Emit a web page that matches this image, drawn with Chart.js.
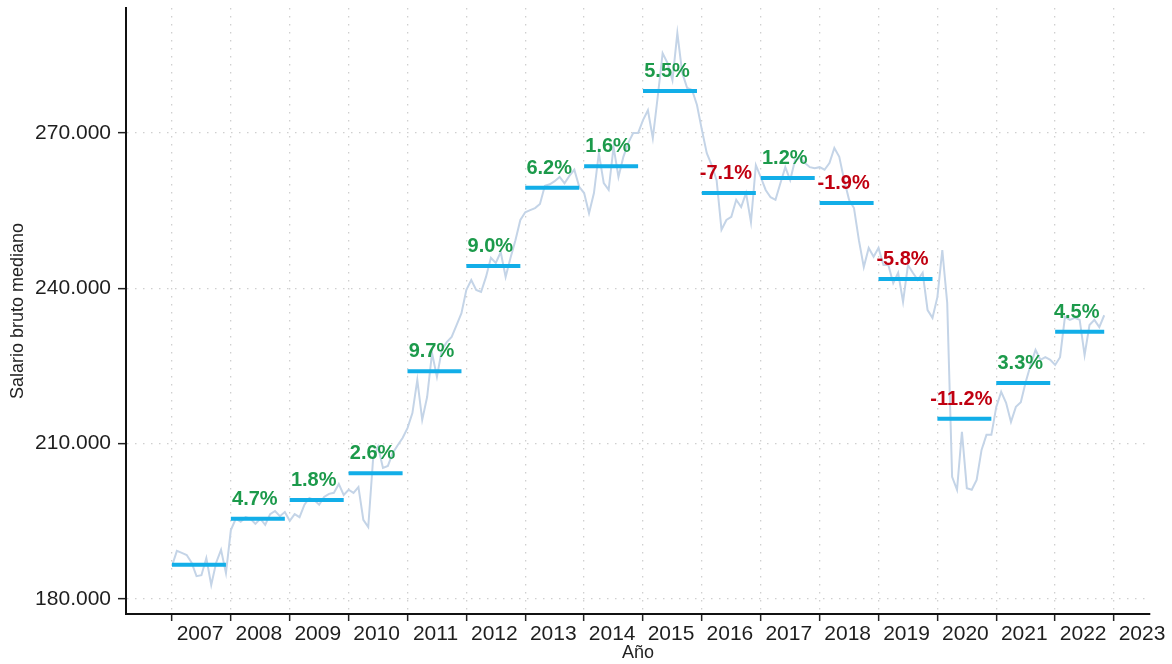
<!DOCTYPE html>
<html>
<head>
<meta charset="utf-8">
<script src="https://cdn.jsdelivr.net/npm/chart.js@4/dist/chart.umd.min.js"></script>
<style>
  html, body { margin: 0; padding: 0; background: #fff; }
  #wrap { width: 1172px; height: 664px; }
</style>
</head>
<body>
<div id="wrap"><canvas id="chart"></canvas></div>
<script>
// valores en miles
var anios = [2007, 2008, 2009, 2010, 2011, 2012, 2013, 2014, 2015, 2016, 2017, 2018, 2019, 2020, 2021, 2022]
var salarioAnual = [186.6, 195.5, 199.1, 204.3, 224.0, 244.3, 259.4, 263.6, 278.1, 258.4, 261.3, 256.5, 241.8, 214.8, 221.7, 231.6]
var variacion = [null, 4.7, 1.8, 2.6, 9.7, 9.0, 6.2, 1.6, 5.5, -7.1, 1.2, -1.9, -5.8, -11.2, 3.3, 4.5]

// serie mensual, desde enero 2007 hasta noviembre 2022
var salarioMensual = [
  186.4, 189.3, 188.9, 188.5, 187.0, 184.4, 184.6, 187.9, 182.7, 187.0, 189.5, 185.0,
  193.3, 195.5, 194.9, 195.8, 195.5, 194.5, 195.5, 194.3, 196.4, 197.0, 196.0, 196.8,
  195.1, 196.4, 195.8, 198.2, 199.5, 199.1, 198.2, 199.7, 200.3, 200.5, 202.2, 200.1,
  201.1, 200.5, 201.6, 195.3, 193.9, 207.2, 209.4, 205.3, 205.7, 208.2, 209.7, 211.1,
  213.0, 215.9, 222.3, 214.6, 219.0, 227.5, 222.9, 228.1, 229.6, 230.6, 232.9, 235.2,
  239.7, 241.6, 239.7, 239.3, 242.2, 245.9, 244.9, 247.0, 242.2, 245.9, 249.3, 253.2,
  254.7, 255.1, 255.5, 256.3, 259.8, 260.1, 260.7, 261.5, 260.3, 261.7, 262.9, 259.6,
  258.4, 254.5, 258.4, 266.1, 260.3, 259.0, 267.3, 261.5, 265.4, 268.1, 270.0, 270.0,
  272.5, 274.4, 269.0, 277.0, 285.4, 283.5, 280.2, 289.3, 281.6, 278.7, 278.3, 275.4,
  270.6, 266.1, 263.8, 260.9, 251.3, 253.2, 253.8, 257.1, 255.7, 258.4, 252.8, 263.8,
  261.5, 259.0, 257.6, 257.1, 260.3, 263.4, 260.9, 264.8, 265.2, 264.2, 263.4, 263.2,
  263.4, 262.9, 264.2, 267.1, 265.4, 260.9, 257.1, 255.5, 249.3, 244.1, 247.8, 246.1,
  247.8, 244.5, 244.5, 241.0, 243.0, 237.4, 244.5, 243.0, 241.6, 243.0, 235.8, 234.3,
  238.3, 247.4, 237.2, 203.6, 201.1, 212.3, 201.4, 201.1, 203.0, 208.8, 211.7, 211.7,
  217.1, 220.0, 217.9, 214.2, 217.1, 218.0, 221.9, 225.2, 228.1, 226.2, 226.7, 226.2,
  225.2, 226.7, 234.5, 233.9, 234.3, 233.9, 227.1, 232.9, 233.9, 232.5, 234.8
]

var ticksX = [2007, 2008, 2009, 2010, 2011, 2012, 2013, 2014, 2015, 2016, 2017, 2018, 2019, 2020, 2021, 2022, 2023]
var ticksY = [180, 210, 240, 270]

var verde = '#1c9a4b'
var rojo = '#c00010'

Chart.defaults.font.family = '"Liberation Sans", Arial, sans-serif'

var mensual = salarioMensual.map(function (v, i) {
  return {x: anios[0] + i / 12, y: v}
})

// fin de cada tramo anual = ultimo mes con dato
function finAnio(k) {
  var n = Math.min(12, salarioMensual.length - k * 12)
  return anios[k] + (n - 1) / 12
}

var tramos = []
for (let k = 0; k < anios.length; k++) {
  tramos.push({x: anios[k], y: salarioAnual[k]})
  tramos.push({x: finAnio(k), y: salarioAnual[k]})
  tramos.push({x: finAnio(k) + 0.01, y: null})
}

var etiquetas = {
  id: 'etiquetas',
  afterDatasetsDraw: function (chart) {
    var ctx = chart.ctx
    var sx = chart.scales.x
    var sy = chart.scales.y
    ctx.save()
    ctx.font = 'bold 20px "Liberation Sans", Arial, sans-serif'
    ctx.textAlign = 'center'
    ctx.textBaseline = 'alphabetic'
    for (let k = 0; k < anios.length; k++) {
      if (variacion[k] == null) continue
      var cx = (sx.getPixelForValue(anios[k]) + sx.getPixelForValue(finAnio(k))) / 2 - 3
      var cy = sy.getPixelForValue(salarioAnual[k]) - 14
      ctx.fillStyle = variacion[k] < 0 ? rojo : verde
      ctx.fillText(variacion[k].toFixed(1) + '%', cx, cy)
    }
    ctx.restore()
  }
}

var ctx = document.getElementById('chart').getContext('2d')

var myChart = new Chart(ctx, {
  type: 'line',
  data: {
    datasets: [{
      data: tramos,
      borderColor: '#12aee8',
      borderWidth: 4,
      pointRadius: 0,
      spanGaps: false,
      tension: 0
    }, {
      data: mensual,
      borderColor: '#c4d4e7',
      borderWidth: 2,
      pointRadius: 0,
      tension: 0
    }]
  },
  options: {
    responsive: true,
    maintainAspectRatio: false,
    animation: false,
    layout: { padding: {top: 8, right: 22, bottom: 0, left: 0} },
    plugins: {
      legend: { display: false },
      tooltip: { enabled: false }
    },
    scales: {
      x: {
        type: 'linear',
        min: 2006.219,
        max: 2023.611,
        afterBuildTicks: function (s) { s.ticks = ticksX.map(function (v) { return {value: v} }) },
        afterFit: function (s) { s.height = 50; s.paddingLeft = 0; s.paddingRight = 0 },
        grid: { color: '#cfcfcf', lineWidth: 1.3, tickColor: '#222', tickWidth: 1.5, tickLength: 7, tickBorderDash: [] },
        border: { color: '#111', width: 2, dash: [1.5, 6.5] },
        ticks: {
          color: '#1e1e1e',
          font: { size: 21 },
          padding: 1,
          labelOffset: 28,
          maxRotation: 0,
          autoSkip: false,
          callback: function (v) { return String(v) }
        },
        title: { display: true, text: 'Año', color: '#222', font: { size: 18 }, padding: {top: 0, bottom: 0} }
      },
      y: {
        type: 'linear',
        min: 177.1,
        max: 294.14,
        afterBuildTicks: function (s) { s.ticks = ticksY.map(function (v) { return {value: v} }) },
        afterFit: function (s) { s.width = 126; s.paddingTop = 0; s.paddingBottom = 0 },
        grid: { color: '#cfcfcf', lineWidth: 1.3, tickColor: '#222', tickWidth: 1.5, tickLength: 8, tickBorderDash: [] },
        border: { color: '#111', width: 2, dash: [1.5, 6.5] },
        ticks: {
          color: '#1e1e1e',
          font: { size: 21 },
          padding: 7,
          callback: function (v) { return v + '.000' }
        },
        title: { display: true, text: 'Salario bruto mediano', color: '#222', font: { size: 18 }, padding: {top: 7, bottom: 0} }
      }
    }
  },
  plugins: [etiquetas]
})
</script>
</body>
</html>
